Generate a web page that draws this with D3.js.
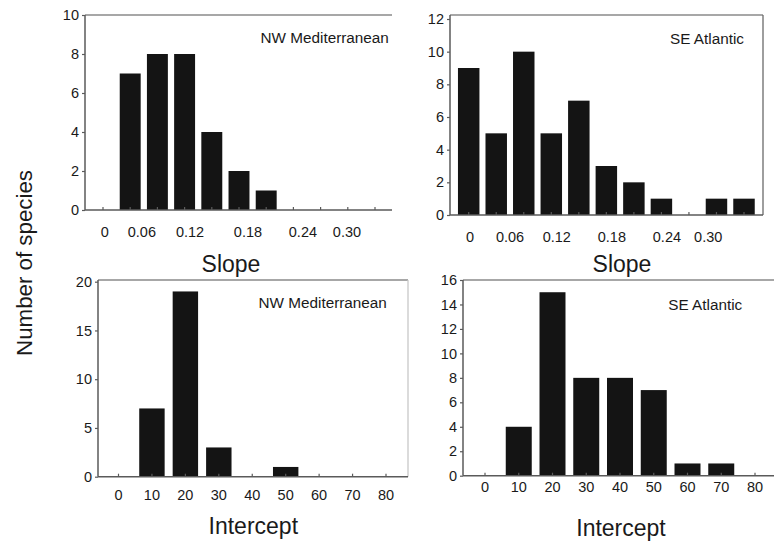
<!DOCTYPE html>
<html><head><meta charset="utf-8">
<script src="https://cdn.jsdelivr.net/npm/d3@7/dist/d3.min.js"></script>
<style>
body{margin:0;background:#fff}
svg{display:block}
text{font-family:"Liberation Sans",Arial,Helvetica,sans-serif;fill:#1a1a1a}
</style>
</head><body>
<svg id="chart" width="774" height="541"></svg>
<script>
// ---------- data ----------
const slopeBins = [0,1,2,3,4,5,6,7,8,9,10];            // bin index (slope classes)
const slopeNW   = [0,7,8,8,4,2,1,0,0,0,0];
const slopeSE   = [9,5,10,5,7,3,2,1,0,1,1];
const slopeTickLabels = ["0","0.06","0.12","0.18","0.24","0.30"];

const interceptBins = [0,10,20,30,40,50,60,70,80];
const interceptNW   = [0,7,19,3,0,1,0,0,0];
const interceptSE   = [0,4,15,8,8,7,1,1,0];
const interceptTickLabels = [0,10,20,30,40,50,60,70,80];

const yTicksSlopeNW = [0,2,4,6,8,10];
const yTicksSlopeSE = [0,2,4,6,8,10,12];
const yTicksIntNW   = [0,5,10,15,20];
const yTicksIntSE   = [0,2,4,6,8,10,12,14,16];

const regionNW = "NW Mediterranean";
const regionSE = "SE Atlantic";

// ---------- layout ----------
const panels = [
  {bins: slopeBins, vals: slopeNW, yTicks: yTicksSlopeNW, yMax: 10, name: regionNW, title: "Slope",
   left: 85, right: 392, top: 15, bottom: 210, yTopPx: 15, xDom: [0,10], xRange: [103,375], barW: 0.77,
   labels: slopeTickLabels, labelAt: [0.07,1.43,3.2,5.33,7.35,8.97], labelY: 236.5,
   nameX: 260.5, nameY: 42.5, titleX: 231, titleY: 271.5, rightBorder: false},
  {bins: slopeBins, vals: slopeSE, yTicks: yTicksSlopeSE, yMax: 12, name: regionSE, title: "Slope",
   left: 450, right: 763, top: 15, bottom: 215, yTopPx: 19, xDom: [0,10], xRange: [468.7,744], barW: 0.78,
   labels: slopeTickLabels, labelAt: [0.05,1.5,3.2,5.2,7.2,8.7], labelY: 241.5,
   nameX: 670, nameY: 43.8, titleX: 622, titleY: 272, rightBorder: true},
  {bins: interceptBins, vals: interceptNW, yTicks: yTicksIntNW, yMax: 20, name: regionNW, title: "Intercept",
   left: 98, right: 408, top: 280, bottom: 476.7, yTopPx: 281.7, xDom: [0,80], xRange: [118.5,386], barW: 7.6,
   labels: interceptTickLabels, labelAt: interceptTickLabels, labelY: 500,
   nameX: 258.5, nameY: 308, titleX: 253.3, titleY: 534, rightBorder: true, faintRight: true},
  {bins: interceptBins, vals: interceptSE, yTicks: yTicksIntSE, yMax: 16, name: regionSE, title: "Intercept",
   left: 463, right: 780, top: 280, bottom: 475.7, yTopPx: 280, xDom: [0,80], xRange: [485,755], barW: 7.7,
   labels: interceptTickLabels, labelAt: interceptTickLabels, labelY: 492,
   nameX: 668.3, nameY: 309.8, titleX: 621, titleY: 536, rightBorder: false}
];

const svg = d3.select("#chart");
const lineCol = "#5a5a5a";

panels.forEach(p => {
  const g = svg.append("g");
  const x = d3.scaleLinear().domain(p.xDom).range(p.xRange);
  const y = d3.scaleLinear().domain([0, p.yMax]).range([p.bottom, p.yTopPx]);

  // frame: top line
  g.append("line").attr("x1", p.left).attr("x2", p.right).attr("y1", p.top).attr("y2", p.top)
    .attr("stroke", "#8a8a8a").attr("stroke-width", 1.3);
  if (p.rightBorder) {
    g.append("line").attr("x1", p.right).attr("x2", p.right).attr("y1", p.top).attr("y2", p.bottom)
      .attr("stroke", p.faintRight ? "#c8c8c8" : "#6a6a6a").attr("stroke-width", 1.3);
  }

  // bars
  const data = p.bins.map((b, i) => ({b, v: p.vals[i]})).filter(d => d.v > 0);
  const bw = Math.abs(x(p.barW) - x(0));
  g.selectAll("rect.bar").data(data).join("rect")
    .attr("class", "bar")
    .attr("x", d => x(d.b) - bw / 2)
    .attr("width", bw)
    .attr("y", d => y(d.v))
    .attr("height", d => y(0) - y(d.v))
    .attr("fill", "#141414");

  // x axis baseline + inward ticks
  g.append("line").attr("x1", p.left).attr("x2", p.right).attr("y1", p.bottom).attr("y2", p.bottom)
    .attr("stroke", lineCol).attr("stroke-width", 1.4);
  g.selectAll("line.xt").data(p.bins).join("line")
    .attr("class", "xt")
    .attr("x1", d => x(d)).attr("x2", d => x(d))
    .attr("y1", p.bottom).attr("y2", p.bottom - 3)
    .attr("stroke", lineCol).attr("stroke-width", 1.2);

  // x tick labels
  g.selectAll("text.xl").data(p.labels).join("text")
    .attr("class", "xl")
    .attr("x", (d, i) => x(p.labelAt[i]))
    .attr("y", p.labelY)
    .attr("text-anchor", "middle")
    .attr("font-size", 14.5)
    .text(d => d);

  // y axis
  const yAxis = d3.axisLeft(y).tickValues(p.yTicks).tickSize(3).tickSizeOuter(0).tickPadding(3)
    .tickFormat(d3.format("d"));
  const ya = g.append("g").attr("transform", `translate(${p.left},0)`).call(yAxis);
  ya.select(".domain").attr("d", `M0,${p.top}V${p.bottom}`).attr("stroke", lineCol).attr("stroke-width", 1.5);
  ya.selectAll(".tick line").attr("stroke", lineCol).attr("stroke-width", 1.2);
  ya.selectAll(".tick text").attr("font-size", 14.5).attr("font-family", "Liberation Sans, Arial, sans-serif")
    .attr("fill", "#1a1a1a");

  // region name
  g.append("text").attr("x", p.nameX).attr("y", p.nameY).attr("font-size", 15.3).text(p.name);

  // axis title
  g.append("text").attr("x", p.titleX).attr("y", p.titleY).attr("text-anchor", "middle")
    .attr("font-size", 23).text(p.title);
});

// common y label
svg.append("text")
  .attr("transform", "translate(32,263) rotate(-90)")
  .attr("text-anchor", "middle")
  .attr("font-size", 22.3)
  .text("Number of species");
</script>
</body></html>
